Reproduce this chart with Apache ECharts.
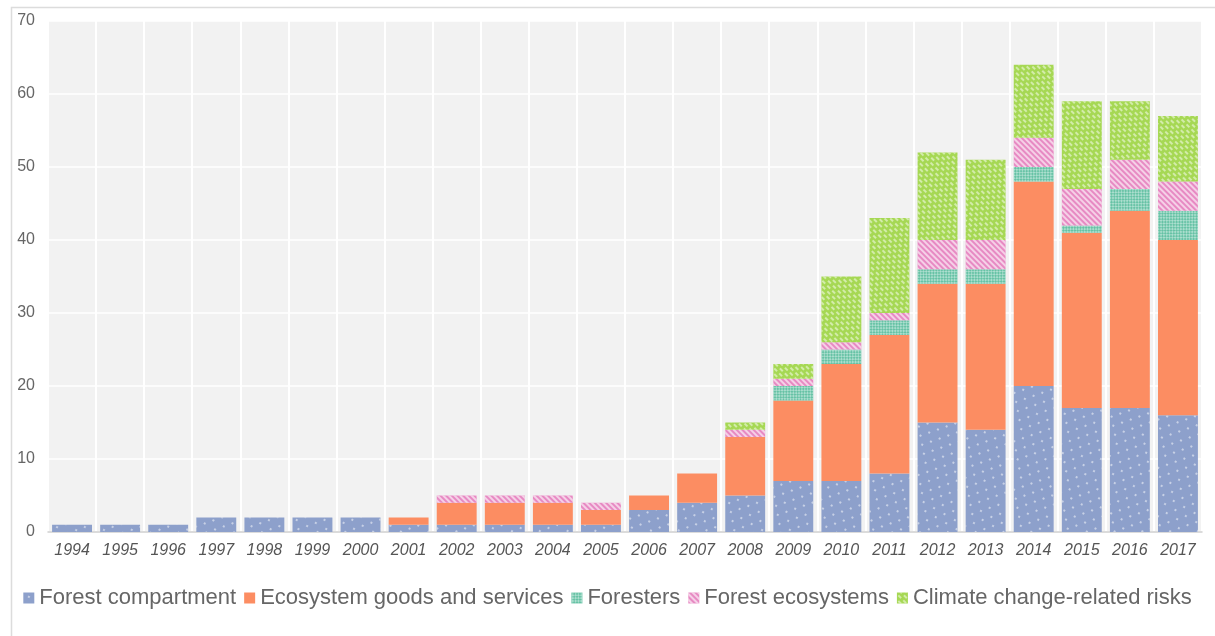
<!DOCTYPE html>
<html>
<head>
<meta charset="utf-8">
<script src="https://cdn.jsdelivr.net/npm/echarts@6/dist/echarts.min.js"></script>
<style>
html,body{margin:0;padding:0;background:#fff;}
#chart{width:1215px;height:636px;}
</style>
</head>
<body>
<div id="chart"></div>
<script>
const categories = ['1994','1995','1996','1997','1998','1999','2000','2001','2002','2003','2004','2005','2006','2007','2008','2009','2010','2011','2012','2013','2014','2015','2016','2017'];
const forestCompartment = [1,1,1,2,2,2,2,1,1,1,1,1,3,4,5,7,7,8,15,14,20,17,17,16];
const ecosystemGoods    = [0,0,0,0,0,0,0,1,3,3,3,2,2,4,8,11,16,19,19,20,28,24,27,24];
const foresters         = [0,0,0,0,0,0,0,0,0,0,0,0,0,0,0,2,2,2,2,2,2,1,3,4];
const forestEcosystems  = [0,0,0,0,0,0,0,0,1,1,1,1,0,0,1,1,1,1,4,4,4,5,4,4];
const climateRisks      = [0,0,0,0,0,0,0,0,0,0,0,0,0,0,1,2,9,13,12,11,10,12,8,9];
const seriesNames = ['Forest compartment','Ecosystem goods and services','Foresters','Forest ecosystems','Climate change-related risks'];
const yTicks = {min:0, max:70, interval:10};

const colors = ['#8da0cb','#fc8d62','#66c2a5','#e78ac3','#a6d854'];
const decals = [
  {color:'rgba(255,255,255,0.75)', symbol:'circle', symbolSize:0.9, dashArrayX:[[2,10],[0,6,2,4]], dashArrayY:[2,5]},
  {symbol:'none'},
  {color:'rgba(255,255,255,0.45)', symbol:'rect', symbolSize:1, dashArrayX:[[2,2],[0,2,2,0]], dashArrayY:[2,0], rotation:Math.PI/4},
  {color:'rgba(255,255,255,0.6)', dashArrayX:[1,0], dashArrayY:[2,2], rotation:Math.PI/4},
  {color:'rgba(255,255,255,0.5)', symbol:'rect', symbolSize:1, dashArrayX:[[4,3],[0,3,4,0]], dashArrayY:[2,2]}
];
const seriesData = [forestCompartment, ecosystemGoods, foresters, forestEcosystems, climateRisks];

const chart = echarts.init(document.getElementById('chart'));
chart.setOption({
  animation:false,
  aria:{enabled:true, decal:{show:true}},
  color:colors,
  graphic:[{type:'rect', left:9, top:5, shape:{width:1230, height:660}, style:{fill:'none', stroke:'#dcdcdc', lineWidth:1.5}, silent:true}],
  grid:{left:48, right:13, top:21, bottom:104, show:true, backgroundColor:'#f2f2f2', borderWidth:0},
  legend:{
    top:582, left:'center', icon:'rect', itemWidth:11, itemHeight:11, itemGap:8,
    textStyle:{fontFamily:'Liberation Sans, Arial, sans-serif', fontSize:22, color:'#666', padding:[0,0,0,0]},
    data:seriesNames
  },
  xAxis:{
    type:'category', data:categories,
    axisLine:{lineStyle:{color:'#d0d0d0', width:1.5}},
    axisTick:{show:false},
    axisLabel:{interval:0, fontStyle:'italic', fontSize:16, color:'#555', margin:11, fontFamily:'Liberation Sans, Arial, sans-serif'},
    splitLine:{show:true, interval:0, lineStyle:{color:'#ffffff', width:2}}
  },
  yAxis:{
    type:'value', min:yTicks.min, max:yTicks.max, interval:yTicks.interval,
    axisLine:{show:false}, axisTick:{show:false},
    axisLabel:{fontSize:16, color:'#666', margin:13, fontFamily:'Liberation Sans, Arial, sans-serif'},
    splitLine:{lineStyle:{color:'#ffffff', width:1.5}}
  },
  series: seriesNames.map((n,i)=>({
    name:n, type:'bar', stack:'total', barCategoryGap:'17%',
    data:seriesData[i],
    itemStyle:{color:colors[i], decal:decals[i]}
  }))
});
</script>
</body>
</html>
